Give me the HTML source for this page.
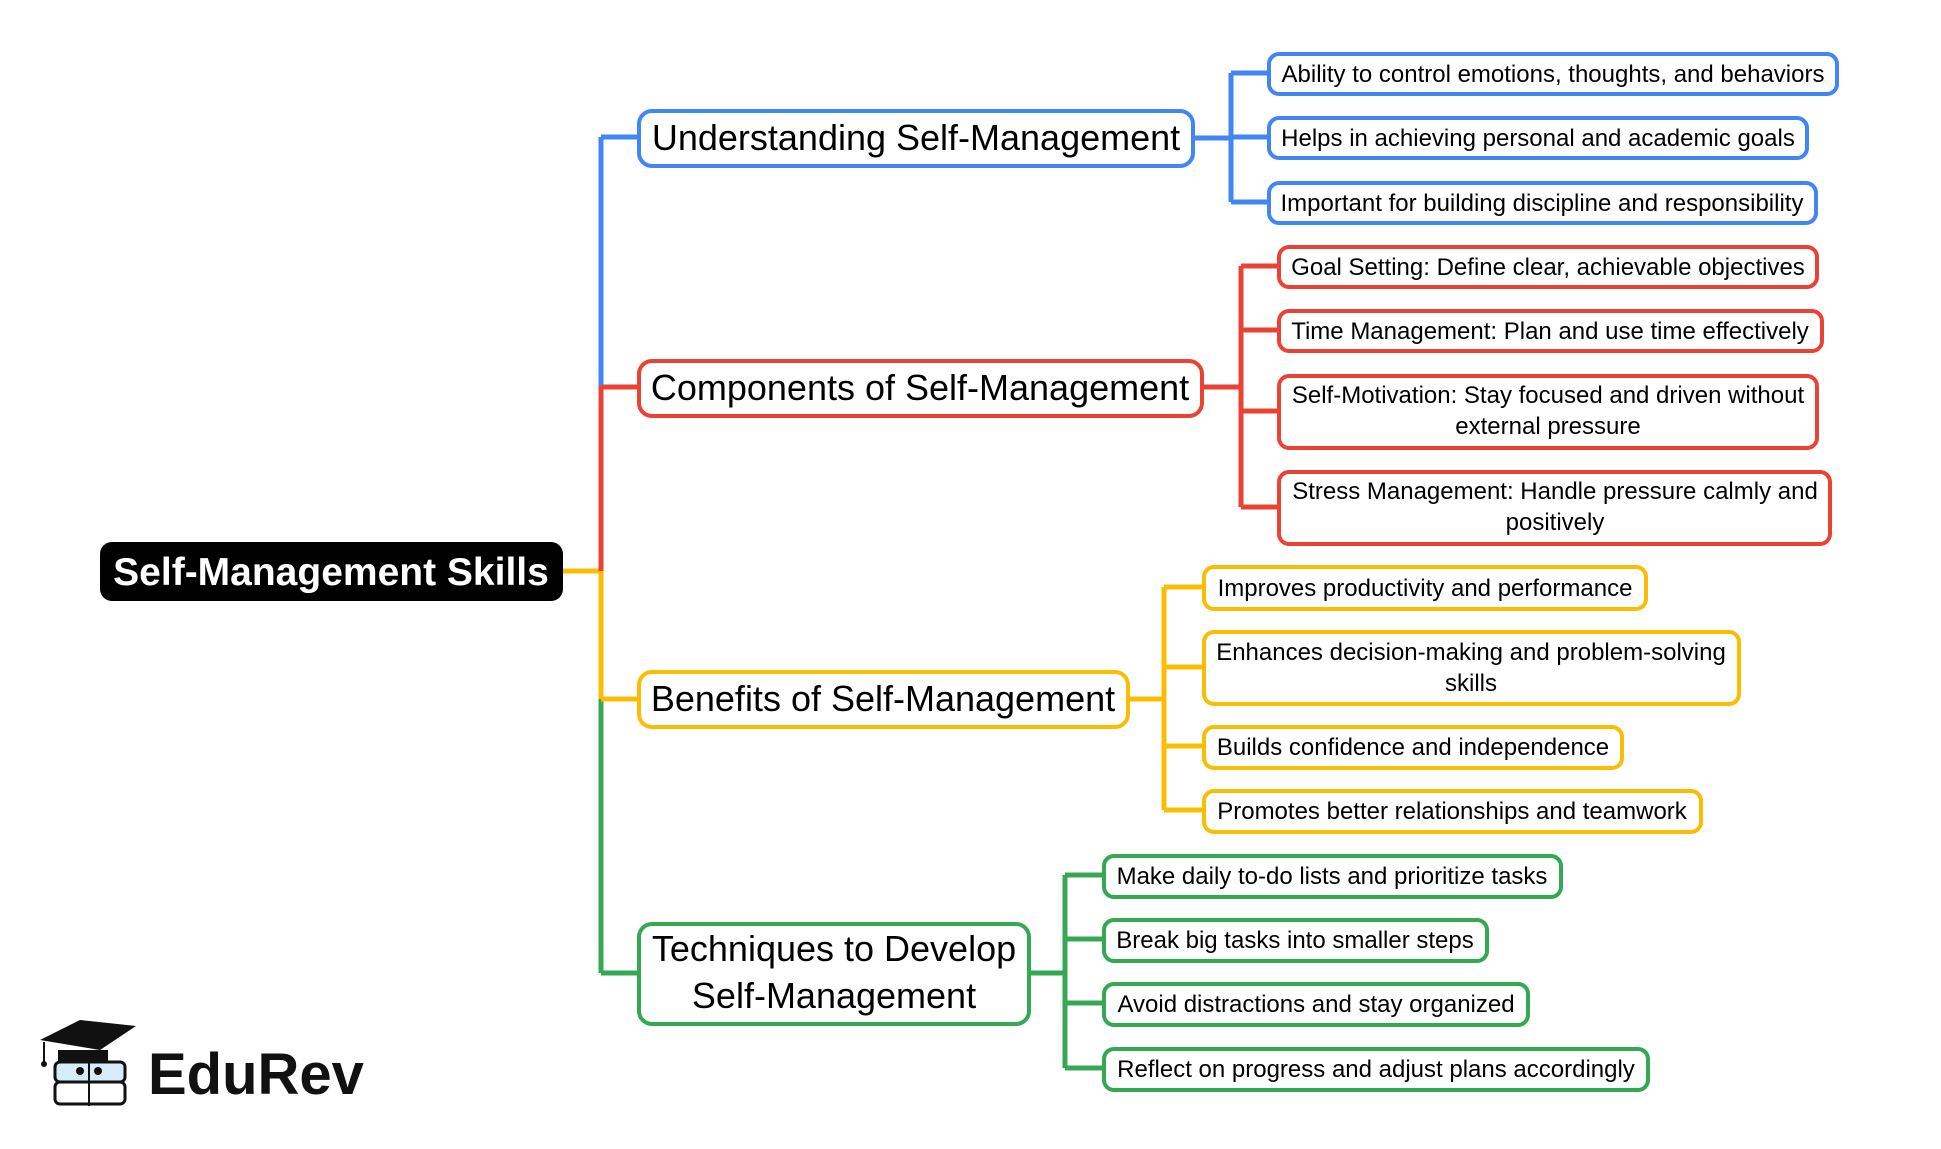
<!DOCTYPE html>
<html><head><meta charset="utf-8"><style>
html,body{margin:0;padding:0;background:#fff;}
svg text{font-family:"Liberation Sans",sans-serif;fill:#000;}
</style></head><body>
<svg width="1941" height="1144" viewBox="0 0 1941 1144" xmlns="http://www.w3.org/2000/svg">
<g fill="none" stroke-width="5">
<path d="M563 571 H601" stroke="#fbbc04"/>
<path d="M601 137 V386" stroke="#4285f4"/>
<path d="M601 386 V571" stroke="#ea4335"/>
<path d="M601 571 V699" stroke="#fbbc04"/>
<path d="M601 699 V973" stroke="#34a853"/>
<path d="M601 137 H637" stroke="#4285f4"/>
<path d="M601 387 H637" stroke="#ea4335"/>
<path d="M601 699 H637" stroke="#fbbc04"/>
<path d="M601 973 H637" stroke="#34a853"/>
<g stroke="#4285f4"><path d="M1193 138 H1231 M1231 73 V202 M1231 73 H1267 M1231 137 H1267 M1231 202 H1267"/></g>
<g stroke="#ea4335"><path d="M1202 387 H1241 M1241 266 V507 M1241 266 H1277 M1241 330 H1277 M1241 411 H1277 M1241 507 H1277"/></g>
<g stroke="#fbbc04"><path d="M1128 699 H1164 M1164 587 V810 M1164 587 H1202 M1164 667 H1202 M1164 746 H1202 M1164 810 H1202"/></g>
<g stroke="#34a853"><path d="M1029 973 H1065 M1065 875 V1068 M1065 875 H1102 M1065 939 H1102 M1065 1003 H1102 M1065 1068 H1102"/></g>
</g>
<rect x="100" y="542" width="463" height="59" rx="12" fill="#000"/>
<text x="331" y="585" font-size="39" font-weight="bold" text-anchor="middle" style="fill:#fff">Self-Management Skills</text>
<g fill="#fff" stroke-width="4">
<rect x="639" y="111" width="554" height="55" rx="13" stroke="#4285f4"/>
<rect x="639" y="361" width="563" height="55" rx="13" stroke="#ea4335"/>
<rect x="639" y="672" width="489" height="55" rx="13" stroke="#fbbc04"/>
<rect x="639" y="924" width="390" height="100" rx="13" stroke="#34a853"/>
<g stroke="#4285f4">
<rect x="1269" y="54" width="568" height="40" rx="10"/>
<rect x="1269" y="118" width="538" height="40" rx="10"/>
<rect x="1269" y="183" width="547" height="40" rx="10"/>
</g>
<g stroke="#ea4335">
<rect x="1279" y="247" width="538" height="40" rx="10"/>
<rect x="1279" y="311" width="543" height="40" rx="10"/>
<rect x="1279" y="376" width="538" height="72" rx="10"/>
<rect x="1279" y="472" width="551" height="72" rx="10"/>
</g>
<g stroke="#fbbc04">
<rect x="1204" y="567" width="442" height="42" rx="10"/>
<rect x="1204" y="632" width="535" height="72" rx="10"/>
<rect x="1204" y="727" width="418" height="41" rx="10"/>
<rect x="1204" y="791" width="497" height="41" rx="10"/>
</g>
<g stroke="#34a853">
<rect x="1104" y="856" width="457" height="41" rx="10"/>
<rect x="1104" y="920" width="383" height="41" rx="10"/>
<rect x="1104" y="984" width="424" height="41" rx="10"/>
<rect x="1104" y="1049" width="544" height="41" rx="10"/>
</g>
</g>
<g font-size="36" text-anchor="middle">
<text x="916" y="150">Understanding Self-Management</text>
<text x="920" y="400">Components of Self-Management</text>
<text x="883" y="711">Benefits of Self-Management</text>
<text x="834" y="961">Techniques to Develop</text>
<text x="834" y="1008">Self-Management</text>
</g>
<g font-size="24" text-anchor="middle">
<text x="1553" y="82">Ability to control emotions, thoughts, and behaviors</text>
<text x="1538" y="146">Helps in achieving personal and academic goals</text>
<text x="1542" y="211">Important for building discipline and responsibility</text>
<text x="1548" y="275">Goal Setting: Define clear, achievable objectives</text>
<text x="1550" y="339">Time Management: Plan and use time effectively</text>
<text x="1548" y="403">Self-Motivation: Stay focused and driven without</text>
<text x="1548" y="434">external pressure</text>
<text x="1555" y="499">Stress Management: Handle pressure calmly and</text>
<text x="1555" y="530">positively</text>
<text x="1425" y="596">Improves productivity and performance</text>
<text x="1471" y="660">Enhances decision-making and problem-solving</text>
<text x="1471" y="691">skills</text>
<text x="1413" y="755">Builds confidence and independence</text>
<text x="1452" y="819">Promotes better relationships and teamwork</text>
<text x="1332" y="884">Make daily to-do lists and prioritize tasks</text>
<text x="1295" y="948">Break big tasks into smaller steps</text>
<text x="1316" y="1012">Avoid distractions and stay organized</text>
<text x="1376" y="1077">Reflect on progress and adjust plans accordingly</text>
</g>
<g>
<polygon points="40,1040 80,1020 136,1026 100,1050" fill="#111"/>
<path d="M44 1042 V1062" stroke="#111" stroke-width="2"/>
<circle cx="44" cy="1064" r="3" fill="#111"/>
<rect x="58" y="1050" width="50" height="15" fill="#111"/>
<rect x="55" y="1062" width="70" height="20" rx="5" fill="#d6ecf8" stroke="#111" stroke-width="3"/>
<rect x="55" y="1082" width="70" height="22" rx="5" fill="#fff" stroke="#111" stroke-width="3"/>
<path d="M89 1058 V1106" stroke="#111" stroke-width="2"/>
<circle cx="80" cy="1071" r="4" fill="#111"/>
<circle cx="98" cy="1071" r="4" fill="#111"/>
<text x="148" y="1094" font-size="58" font-weight="bold" style="fill:#111">EduRev</text>
</g>
</svg>
</body></html>
